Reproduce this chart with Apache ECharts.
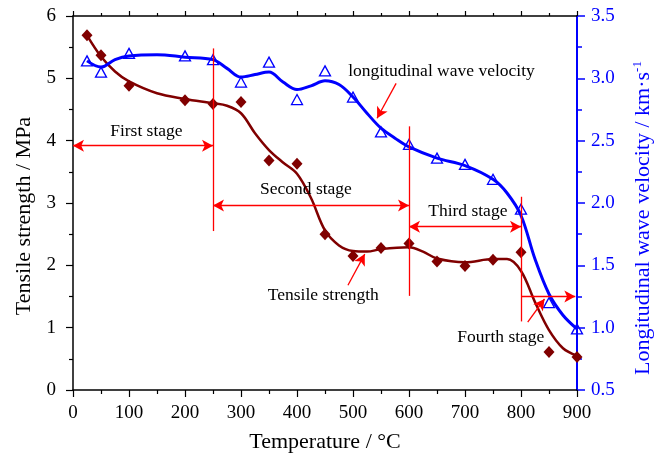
<!DOCTYPE html>
<html>
<head>
<meta charset="utf-8">
<script src="https://cdn.jsdelivr.net/npm/echarts@6/dist/echarts.min.js"></script>
<style>
  html, body { margin: 0; padding: 0; background: #fff; }
  #chart { width: 666px; height: 458px; }
</style>
</head>
<body>
<div id="chart"></div>
<script>
// Measured points
const temps = [25, 50, 100, 200, 250, 300, 350, 400, 450, 500, 550, 600, 650, 700, 750, 800, 850, 900];
const tensileStrength = [5.69, 5.37, 4.88, 4.65, 4.59, 4.62, 3.68, 3.63, 2.50, 2.15, 2.28, 2.35, 2.06, 1.99, 2.09, 2.21, 0.61, 0.53];
const waveVelocity = [3.14, 3.05, 3.20, 3.18, 3.15, 2.97, 3.13, 2.83, 3.06, 2.85, 2.57, 2.47, 2.36, 2.31, 2.19, 1.95, 1.20, 0.99];

// Fitted trend curves
const tensileFitT = [25, 50, 75, 100, 150, 200, 250, 275, 300, 325, 350, 375, 400, 425, 450, 475, 500, 525, 550, 600, 625, 650, 700, 750, 775, 800, 825, 850, 875, 900];
const tensileFitV = [5.69, 5.35, 5.11, 4.95, 4.76, 4.67, 4.60, 4.56, 4.44, 4.12, 3.85, 3.65, 3.47, 3.08, 2.56, 2.32, 2.23, 2.22, 2.26, 2.29, 2.22, 2.11, 2.05, 2.10, 2.10, 1.91, 1.41, 0.96, 0.67, 0.55];
const velocityFitT = [25, 50, 75, 100, 150, 200, 250, 275, 300, 325, 350, 375, 400, 425, 450, 475, 500, 525, 550, 575, 600, 650, 700, 750, 775, 800, 825, 850, 875, 900];
const velocityFitV = [3.14, 3.09, 3.15, 3.18, 3.19, 3.17, 3.15, 3.08, 3.01, 3.03, 3.05, 2.97, 2.91, 2.94, 2.98, 2.95, 2.85, 2.72, 2.60, 2.52, 2.45, 2.36, 2.30, 2.19, 2.08, 1.90, 1.55, 1.27, 1.10, 0.99];

// Tick labels
const xTicks = ['0', '100', '200', '300', '400', '500', '600', '700', '800', '900'];

// Stage boundaries and annotations (in temperature / tensile-strength units)
const stageBounds = [[250, 2.55, 5.48], [600, 1.51, 4.23], [800, 1.10, 3.10]];
const stageArrows = [[0, 250, 3.92, 'both'], [250, 600, 2.96, 'both'], [600, 800, 2.62, 'both'], [800, 897, 1.50, 'end']];
const pointerArrows = [[577, 4.92, 543, 4.36], [491, 1.68, 521, 2.18], [812, 1.09, 842, 1.46]];
const noteText = ['First stage', 'Second stage', 'Third stage', 'Fourth stage', 'Tensile strength', 'longitudinal wave velocity'];
const notePos = [[131, 4.15], [416, 3.22], [705, 2.87], [764, 0.85], [447, 1.52], [658, 5.11]];

const serif = 'Liberation Serif, Times New Roman, serif';
const darkRed = '#800000';
const blue = '#0000ff';

const zip = (a, b) => a.map((v, i) => [v, b[i]]);

const markLines = [];
stageBounds.forEach(([x, y0, y1]) => {
  markLines.push([{ coord: [x, y0], symbol: 'none' }, { coord: [x, y1], symbol: 'none' }]);
});
stageArrows.forEach(([x0, x1, y, mode]) => {
  markLines.push([
    { coord: [x0, y], symbol: mode === 'both' ? 'arrow' : 'none' },
    { coord: [x1, y], symbol: 'arrow' }
  ]);
});
pointerArrows.forEach(([x0, y0, x1, y1]) => {
  markLines.push([{ coord: [x0, y0], symbol: 'none' }, { coord: [x1, y1], symbol: 'arrow' }]);
});

const markPoints = noteText.map((t, i) => ({
  coord: notePos[i],
  value: t,
  symbol: 'circle',
  symbolSize: 0,
  label: {
    show: true,
    position: 'inside',
    formatter: t,
    color: '#000',
    fontFamily: serif,
    fontSize: 17.5
  }
}));

const chart = echarts.init(document.getElementById('chart'), null, { renderer: 'canvas' });
chart.setOption({
  animation: false,
  backgroundColor: '#fff',
  grid: { left: 73, right: 89, top: 16, bottom: 66, containLabel: false },
  xAxis: [
    {
      type: 'value', min: 0, max: 900, interval: 100,
      name: 'Temperature / °C', nameLocation: 'middle', nameGap: 41,
      nameTextStyle: { fontFamily: serif, fontSize: 22, color: '#000' },
      axisLine: { lineStyle: { color: '#000', width: 1.5 } },
      axisTick: { inside: false, length: 7, lineStyle: { color: '#000', width: 1.2 } },
      minorTick: { show: true, splitNumber: 2, length: 4, lineStyle: { color: '#000', width: 1.2 } },
      axisLabel: { fontFamily: serif, fontSize: 19, color: '#000', margin: 14,
        formatter: (v) => xTicks[Math.round(v / 100)] },
      splitLine: { show: false }
    },
    {
      type: 'value', min: 0, max: 900, interval: 100, position: 'top',
      axisLine: { show: true, onZero: false, lineStyle: { color: '#000', width: 1.5 } },
      axisTick: { show: true, inside: false, length: 5, lineStyle: { color: '#000', width: 1.2 } },
      minorTick: { show: true, splitNumber: 2, length: 3, lineStyle: { color: '#000', width: 1.2 } },
      axisLabel: { show: false },
      splitLine: { show: false }
    }
  ],
  yAxis: [
    {
      type: 'value', min: 0, max: 6, interval: 1, position: 'left',
      name: 'Tensile strength / MPa', nameLocation: 'middle', nameGap: 36, nameRotate: 90,
      nameTextStyle: { fontFamily: serif, fontSize: 22, color: '#000', padding: [0, 26, 0, 0] },
      axisLine: { show: true, onZero: false, lineStyle: { color: '#000', width: 1.5 } },
      axisTick: { show: true, inside: false, length: 7, lineStyle: { color: '#000', width: 1.2 } },
      minorTick: { show: true, splitNumber: 2, length: 4, lineStyle: { color: '#000', width: 1.2 } },
      axisLabel: { fontFamily: serif, fontSize: 19, color: '#000', margin: 17 },
      splitLine: { show: false }
    },
    {
      type: 'value', min: 0.5, max: 3.5, interval: 0.5, position: 'right',
      name: 'Longitudinal wave velocity / km·s{sup|-1}', nameLocation: 'middle', nameGap: 54, nameRotate: 90,
      nameTextStyle: { fontFamily: serif, fontSize: 22, color: blue, padding: [0, 30, 0, 0],
        rich: { sup: { fontFamily: serif, fontSize: 13, color: blue, verticalAlign: 'top', padding: [0, 0, 12, 0] } } },
      axisLine: { show: true, onZero: false, lineStyle: { color: blue, width: 2 } },
      axisTick: { show: true, inside: false, length: 8, lineStyle: { color: blue, width: 1.5 } },
      minorTick: { show: true, splitNumber: 2, length: 5, lineStyle: { color: blue, width: 1.5 } },
      axisLabel: { fontFamily: serif, fontSize: 19, color: blue, margin: 14,
        formatter: (v) => v.toFixed(1) },
      splitLine: { show: false }
    }
  ],
  series: [
    {
      name: 'Tensile strength fit', type: 'line', xAxisIndex: 0, yAxisIndex: 0,
      data: zip(tensileFitT, tensileFitV), smooth: 0.35, showSymbol: false, symbol: 'none',
      lineStyle: { color: darkRed, width: 2.5 }, z: 2,
      markLine: {
        silent: true, animation: false, symbolSize: [9, 11],
        label: { show: false },
        lineStyle: { color: '#ff0000', width: 1.3, type: 'solid' },
        emphasis: { disabled: true },
        data: markLines
      },
      markPoint: { silent: true, animation: false, data: markPoints }
    },
    {
      name: 'Longitudinal wave velocity fit', type: 'line', xAxisIndex: 0, yAxisIndex: 1,
      data: zip(velocityFitT, velocityFitV), smooth: 0.35, showSymbol: false, symbol: 'none',
      lineStyle: { color: blue, width: 3 }, z: 2
    },
    {
      name: 'Tensile strength', type: 'scatter', xAxisIndex: 0, yAxisIndex: 0,
      data: zip(temps, tensileStrength), symbol: 'diamond', symbolSize: [11, 12],
      itemStyle: { color: darkRed, opacity: 1 }, z: 3
    },
    {
      name: 'Longitudinal wave velocity', type: 'scatter', xAxisIndex: 0, yAxisIndex: 1,
      data: zip(temps, waveVelocity), symbol: 'triangle', symbolSize: [11, 10],
      itemStyle: { color: 'rgba(255,255,255,0)', borderColor: blue, borderWidth: 1.3, opacity: 1 }, z: 3
    }
  ]
});
</script>
</body>
</html>
